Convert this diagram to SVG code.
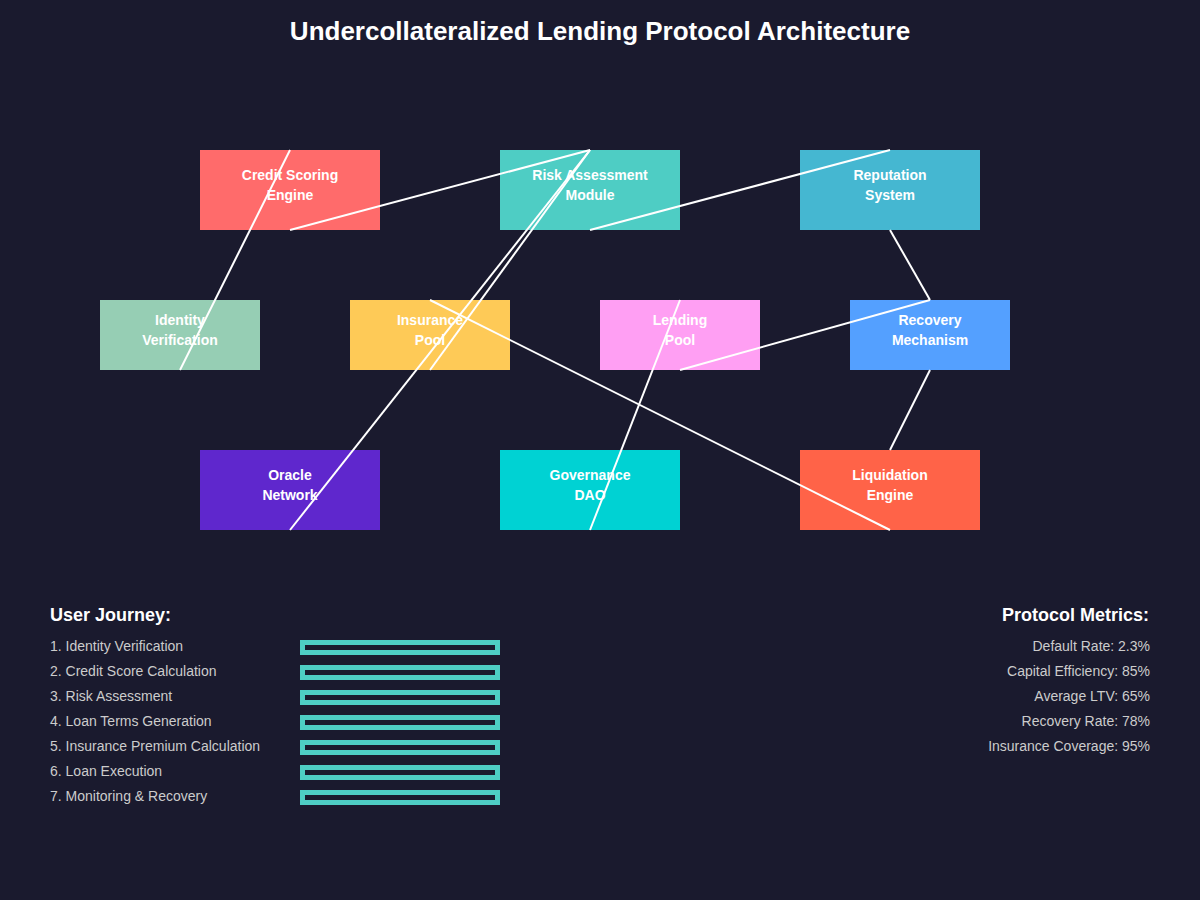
<svg xmlns="http://www.w3.org/2000/svg" width="1200" height="900" viewBox="0 0 1200 900">
<style>
.lbl{font-family:"Liberation Sans",Arial,sans-serif;font-size:14px;font-weight:bold;fill:#fff;text-anchor:middle}
.conn line{stroke:#fff;stroke-width:2}
.hd{font-family:"Liberation Sans",Arial,sans-serif;font-size:18px;font-weight:bold;fill:#fff}
.it{font-family:"Liberation Sans",Arial,sans-serif;font-size:14px;fill:#cccccc}
.bar{fill:#1a1a2e;stroke:#4ecdc4;stroke-width:5}
</style>
<rect width="1200" height="900" fill="#1a1a2e"/>
<text x="600" y="40" font-family="Liberation Sans, Arial, sans-serif" font-size="26" font-weight="bold" fill="#fff" text-anchor="middle">Undercollateralized Lending Protocol Architecture</text>
<g id="credit"><rect x="200" y="150" width="180" height="80" fill="#ff6b6b"/><text class="lbl" x="290" y="180">Credit Scoring</text><text class="lbl" x="290" y="200">Engine</text></g>
<g id="risk"><rect x="500" y="150" width="180" height="80" fill="#4ecdc4"/><text class="lbl" x="590" y="180">Risk Assessment</text><text class="lbl" x="590" y="200">Module</text></g>
<g id="reputation"><rect x="800" y="150" width="180" height="80" fill="#45b7d1"/><text class="lbl" x="890" y="180">Reputation</text><text class="lbl" x="890" y="200">System</text></g>
<g id="identity"><rect x="100" y="300" width="160" height="70" fill="#96ceb4"/><text class="lbl" x="180" y="325">Identity</text><text class="lbl" x="180" y="345">Verification</text></g>
<g id="insurance"><rect x="350" y="300" width="160" height="70" fill="#feca57"/><text class="lbl" x="430" y="325">Insurance</text><text class="lbl" x="430" y="345">Pool</text></g>
<g id="lending"><rect x="600" y="300" width="160" height="70" fill="#ff9ff3"/><text class="lbl" x="680" y="325">Lending</text><text class="lbl" x="680" y="345">Pool</text></g>
<g id="recovery"><rect x="850" y="300" width="160" height="70" fill="#54a0ff"/><text class="lbl" x="930" y="325">Recovery</text><text class="lbl" x="930" y="345">Mechanism</text></g>
<g id="oracle"><rect x="200" y="450" width="180" height="80" fill="#5f27cd"/><text class="lbl" x="290" y="480">Oracle</text><text class="lbl" x="290" y="500">Network</text></g>
<g id="governance"><rect x="500" y="450" width="180" height="80" fill="#00d2d3"/><text class="lbl" x="590" y="480">Governance</text><text class="lbl" x="590" y="500">DAO</text></g>
<g id="liquidation"><rect x="800" y="450" width="180" height="80" fill="#ff6348"/><text class="lbl" x="890" y="480">Liquidation</text><text class="lbl" x="890" y="500">Engine</text></g>
<g id="connectors" class="conn">
<line x1="290" y1="150" x2="180" y2="370"/>
<line x1="290" y1="230" x2="590" y2="150"/>
<line x1="590" y1="150" x2="430" y2="370"/>
<line x1="590" y1="150" x2="290" y2="530"/>
<line x1="590" y1="230" x2="890" y2="150"/>
<line x1="890" y1="230" x2="930" y2="300"/>
<line x1="930" y1="300" x2="680" y2="370"/>
<line x1="930" y1="370" x2="890" y2="450"/>
<line x1="430" y1="300" x2="890" y2="530"/>
<line x1="680" y1="300" x2="590" y2="530"/>
</g>
<g id="journey">
<text class="hd" x="50" y="621">User Journey:</text>
<text class="it" x="50" y="651">1. Identity Verification</text>
<text class="it" x="50" y="676">2. Credit Score Calculation</text>
<text class="it" x="50" y="701">3. Risk Assessment</text>
<text class="it" x="50" y="726">4. Loan Terms Generation</text>
<text class="it" x="50" y="751">5. Insurance Premium Calculation</text>
<text class="it" x="50" y="776">6. Loan Execution</text>
<text class="it" x="50" y="801">7. Monitoring &amp; Recovery</text>
<rect class="bar" x="302.5" y="642.5" width="195" height="10"/>
<rect class="bar" x="302.5" y="667.5" width="195" height="10"/>
<rect class="bar" x="302.5" y="692.5" width="195" height="10"/>
<rect class="bar" x="302.5" y="717.5" width="195" height="10"/>
<rect class="bar" x="302.5" y="742.5" width="195" height="10"/>
<rect class="bar" x="302.5" y="767.5" width="195" height="10"/>
<rect class="bar" x="302.5" y="792.5" width="195" height="10"/>
</g>
<g id="metrics" text-anchor="end">
<text class="hd" x="1149" y="621" text-anchor="end">Protocol Metrics:</text>
<text class="it" x="1150" y="651" text-anchor="end">Default Rate: 2.3%</text>
<text class="it" x="1150" y="676" text-anchor="end">Capital Efficiency: 85%</text>
<text class="it" x="1150" y="701" text-anchor="end">Average LTV: 65%</text>
<text class="it" x="1150" y="726" text-anchor="end">Recovery Rate: 78%</text>
<text class="it" x="1150" y="751" text-anchor="end">Insurance Coverage: 95%</text>
</g>
</svg>
